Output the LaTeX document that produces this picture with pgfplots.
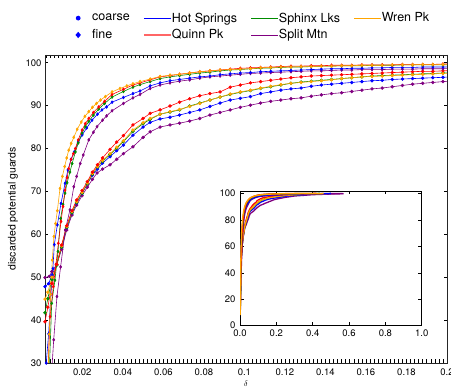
\documentclass[border=0pt]{standalone}
\usepackage{pgfplots}
\usepackage{pgfplotstable}
\pgfplotsset{compat=1.18}
\usepackage{fontspec}
\setmainfont{TeX Gyre Heros}
\definecolor{cblue}{RGB}{0,0,255}
\definecolor{cred}{RGB}{255,0,0}
\definecolor{cgreen}{RGB}{0,140,0}
\definecolor{corange}{RGB}{255,165,0}
\definecolor{cpurple}{RGB}{128,0,128}

% upper group (fine)
\pgfplotstableread{
x y
0.0012 8
0.0030 25
0.0037 36.7
0.0044 46
0.0052 54
0.0060 59.5
0.0068 62.5
0.0077 65.5
0.0090 70.7
0.0102 73.5
0.0113 75.8
0.0123 77.8
0.0133 79.6
0.0145 81.2
0.0158 82.6
0.0175 84.5
0.0195 86.2
0.0213 87.5
0.0232 88.6
0.0250 89.6
0.0270 90.5
0.0290 91.3
0.0314 92.1
0.0347 93.2
0.0386 94.0
0.0420 94.6
0.0450 95.1
0.0485 95.6
0.0535 96.2
0.0584 96.8
0.0633 97.1
0.068 97.3
0.073 97.6
0.078 97.9
0.083 98.1
0.088 98.3
0.093 98.4
0.098 98.5
0.103 98.6
0.108 98.8
0.113 98.9
0.118 99.0
0.123 99.0
0.128 99.1
0.133 99.1
0.138 99.2
0.143 99.2
0.148 99.3
0.153 99.3
0.158 99.4
0.163 99.4
0.168 99.4
0.173 99.5
0.178 99.5
0.183 99.5
0.188 99.6
0.193 99.6
0.198 99.6
0.2500 99.7
0.3000 99.8
0.4000 99.9
0.4600 100
}\tabOU
\pgfplotstableread{
x y
0.0012 10
0.0028 25
0.0041 40.8
0.0057 47.8
0.0070 53.0
0.0082 57.9
0.0095 63.0
0.0105 66.5
0.0115 70.3
0.0125 73.2
0.0133 75.3
0.0145 77.5
0.0156 78.8
0.0166 80.0
0.0180 82.0
0.0199 84.3
0.0215 85.8
0.0232 87.0
0.0255 88.4
0.0281 89.7
0.0310 91.0
0.0347 92.6
0.0403 93.8
0.0450 94.8
0.0485 95.3
0.0535 96.0
0.0584 96.7
0.0633 97.0
0.068 97.3
0.073 97.6
0.078 97.9
0.083 98.1
0.088 98.3
0.093 98.5
0.098 98.7
0.103 98.8
0.108 98.9
0.113 99.0
0.118 99.1
0.123 99.2
0.128 99.2
0.133 99.3
0.138 99.3
0.143 99.4
0.148 99.4
0.153 99.4
0.158 99.5
0.163 99.5
0.168 99.5
0.173 99.5
0.178 99.6
0.183 99.6
0.188 99.6
0.193 99.6
0.198 99.7
0.2500 99.8
0.3000 99.9
0.4200 100
}\tabRU
\pgfplotstableread{
x y
0.0012 10
0.0035 25
0.0049 43.9
0.0065 49.3
0.0080 56.0
0.0093 63.7
0.0105 67.0
0.0115 69.6
0.0125 72.0
0.0139 74.5
0.0150 76.5
0.0166 79.2
0.0180 81.3
0.0199 83.6
0.0215 85.1
0.0232 86.3
0.0255 87.8
0.0281 89.2
0.0310 90.5
0.0347 92.0
0.0403 93.3
0.0450 94.3
0.0485 94.9
0.0535 95.6
0.0584 96.3
0.0633 96.7
0.068 97.0
0.073 97.3
0.078 97.6
0.083 97.8
0.088 98.1
0.093 98.3
0.098 98.4
0.103 98.6
0.108 98.7
0.113 98.8
0.118 98.9
0.123 99.0
0.128 99.0
0.133 99.1
0.138 99.2
0.143 99.2
0.148 99.3
0.153 99.3
0.158 99.3
0.163 99.4
0.168 99.4
0.173 99.4
0.178 99.5
0.183 99.5
0.188 99.5
0.193 99.5
0.198 99.5
0.2500 99.7
0.3000 99.8
0.4400 100
}\tabGU
\pgfplotstableread{
x y
0.0010 12
0.0022 30
0.0034 36.8
0.0045 46.0
0.0055 52.0
0.0062 57.6
0.0077 62.2
0.0095 67.2
0.0115 71.9
0.0129 75.0
0.0145 77.5
0.0160 79.2
0.0180 81.5
0.0200 83.2
0.0222 84.8
0.0248 86.6
0.0275 88.0
0.0297 89.0
0.0320 89.7
0.0347 90.8
0.0403 91.9
0.0450 92.8
0.0485 93.4
0.0535 94.6
0.0584 95.3
0.0633 95.8
0.068 96.1
0.073 96.4
0.078 96.7
0.083 96.9
0.088 97.2
0.093 97.4
0.098 97.6
0.103 97.7
0.108 97.9
0.113 98.0
0.118 98.1
0.123 98.2
0.128 98.3
0.133 98.4
0.138 98.5
0.143 98.6
0.148 98.6
0.153 98.7
0.158 98.7
0.163 98.8
0.168 98.8
0.173 98.9
0.178 98.9
0.183 98.9
0.188 99.0
0.193 99.0
0.198 99.0
0.2500 99.4
0.3000 99.6
0.4000 99.8
0.5000 100
}\tabBU
\pgfplotstableread{
x y
0.0015 10
0.0045 25
0.0059 35.4
0.0075 45.5
0.0093 52.4
0.0116 61.0
0.0139 65.7
0.0158 71.1
0.0172 73.5
0.0190 76.5
0.0205 78.5
0.0232 82.0
0.0255 83.8
0.0273 85.1
0.0300 86.6
0.0320 87.6
0.0347 88.8
0.0403 90.5
0.0450 91.8
0.0485 92.6
0.0535 94.0
0.0584 94.8
0.0633 95.3
0.068 95.7
0.073 96.0
0.078 96.4
0.083 96.7
0.088 96.9
0.093 97.1
0.098 97.3
0.103 97.5
0.108 97.6
0.113 97.7
0.118 97.8
0.123 97.9
0.128 98.0
0.133 98.1
0.138 98.1
0.143 98.2
0.148 98.3
0.153 98.3
0.158 98.4
0.163 98.4
0.168 98.4
0.173 98.5
0.178 98.5
0.183 98.5
0.188 98.6
0.193 98.6
0.198 98.6
0.2500 99.0
0.3000 99.3
0.4000 99.6
0.5000 99.8
0.5650 99.9
}\tabPU

% lower group (coarse)
\pgfplotstableread{
x y
0.0016 39.6
0.0030 43.0
0.0050 48.5
0.0074 53.0
0.0098 57.5
0.0123 62.0
0.0149 65.5
0.0172 68.0
0.0199 70.2
0.0225 72.3
0.0250 74.5
0.0275 76.2
0.0300 77.8
0.0337 79.8
0.0370 81.5
0.0403 83.0
0.0450 85.5
0.0500 87.0
0.0535 88.2
0.0584 89.0
0.0633 89.9
0.068 90.8
0.073 91.6
0.078 92.3
0.083 92.8
0.088 93.2
0.093 94.3
0.098 94.8
0.103 95.3
0.108 95.6
0.113 95.9
0.118 96.2
0.123 96.5
0.128 96.7
0.133 96.9
0.138 97.0
0.143 97.1
0.148 97.2
0.153 97.3
0.158 97.4
0.163 97.5
0.168 97.6
0.173 97.7
0.178 97.8
0.183 97.9
0.188 98.0
0.193 98.0
0.198 98.1
0.2500 98.8
0.3000 99.2
0.3500 99.5
0.4500 99.8
}\tabRL
\pgfplotstableread{
x y
0.0016 44.9
0.0030 46.5
0.0050 50.0
0.0074 53.0
0.0098 57.3
0.0123 61.8
0.0149 65.3
0.0172 67.6
0.0199 69.8
0.0225 72.0
0.0250 74.2
0.0275 75.8
0.0300 77.2
0.0337 78.8
0.0370 80.3
0.0403 81.8
0.0450 84.3
0.0500 86.0
0.0535 87.0
0.0584 88.0
0.0633 88.6
0.068 89.1
0.073 89.8
0.078 90.5
0.083 91.3
0.088 92.0
0.093 92.7
0.098 93.2
0.103 93.6
0.108 94.1
0.113 94.5
0.118 94.9
0.123 95.2
0.128 95.4
0.133 95.6
0.138 95.8
0.143 96.0
0.148 96.3
0.153 96.5
0.158 96.7
0.163 96.8
0.168 96.9
0.173 97.0
0.178 97.1
0.183 97.2
0.188 97.3
0.193 97.4
0.198 97.5
0.2500 98.4
0.3000 99.0
0.4000 99.6
0.5000 99.9
}\tabOL
\pgfplotstableread{
x y
0.0016 41.7
0.0030 45.0
0.0050 49.5
0.0074 52.8
0.0098 57.0
0.0123 61.6
0.0149 65.0
0.0172 67.4
0.0199 69.6
0.0225 71.8
0.0250 74.0
0.0275 75.7
0.0300 77.0
0.0337 78.6
0.0370 80.1
0.0403 81.6
0.0450 84.0
0.0500 85.8
0.0535 86.8
0.0584 88.0
0.0633 88.5
0.068 89.0
0.073 89.9
0.078 90.6
0.083 91.3
0.088 92.0
0.093 92.6
0.098 93.1
0.103 93.5
0.108 94.0
0.113 94.4
0.118 94.8
0.123 95.2
0.128 95.5
0.133 95.7
0.138 95.9
0.143 96.1
0.148 96.3
0.153 96.5
0.158 96.7
0.163 96.9
0.168 97.0
0.173 97.1
0.178 97.2
0.183 97.3
0.188 97.4
0.193 97.5
0.198 97.6
0.2500 98.5
0.3000 99.0
0.4000 99.6
0.4500 99.8
}\tabGL
\pgfplotstableread{
x y
0.0016 47.8
0.0034 48.5
0.0050 50.5
0.0074 53.0
0.0098 57.0
0.0123 61.5
0.0149 65.0
0.0172 67.3
0.0199 69.5
0.0225 71.8
0.0250 73.8
0.0275 75.2
0.0300 76.6
0.0337 78.1
0.0370 79.5
0.0403 80.8
0.0450 83.1
0.0500 85.0
0.0535 86.1
0.0584 86.9
0.0633 87.3
0.068 87.8
0.073 88.4
0.078 89.0
0.083 89.8
0.088 90.6
0.093 91.3
0.098 91.7
0.103 92.1
0.108 92.8
0.113 93.2
0.118 93.6
0.123 93.9
0.128 94.1
0.133 94.5
0.138 94.8
0.143 95.0
0.148 95.2
0.153 95.4
0.158 95.6
0.163 95.8
0.168 95.9
0.173 96.1
0.178 96.2
0.183 96.3
0.188 96.4
0.193 96.5
0.198 96.6
0.2500 97.8
0.3000 98.6
0.4000 99.4
0.5000 99.8
}\tabBL
\pgfplotstableread{
x y
0.0016 49.9
0.0037 50.2
0.0050 51.3
0.0074 53.0
0.0098 56.5
0.0123 61.0
0.0149 64.5
0.0172 66.8
0.0199 69.0
0.0225 71.0
0.0250 72.8
0.0273 74.3
0.0300 75.2
0.0337 76.2
0.0370 77.5
0.0403 78.8
0.0450 80.4
0.0500 82.6
0.0535 83.9
0.0584 85.0
0.0633 85.5
0.068 85.9
0.073 86.4
0.078 87.0
0.083 87.8
0.088 88.4
0.093 89.0
0.098 89.6
0.103 90.1
0.108 90.6
0.113 91.0
0.118 91.3
0.123 91.6
0.128 91.8
0.133 92.2
0.138 92.5
0.143 92.8
0.148 93.0
0.153 93.3
0.158 93.6
0.163 93.9
0.168 94.1
0.173 94.4
0.178 94.7
0.183 95.0
0.188 95.2
0.193 95.4
0.198 95.6
0.2500 97.0
0.3000 98.0
0.4000 99.0
0.5000 99.5
0.5700 99.7
}\tabPL

\begin{document}
\begin{tikzpicture}
\begin{axis}[
  name=main,
  scale only axis,
  width=402bp, height=308bp,
  xmin=0.0016, xmax=0.2,
  ymin=30, ymax=101.8,
  xtick={0.02,0.04,0.06,0.08,0.1,0.12,0.14,0.16,0.18,0.2},
  xticklabels={0.02,0.04,0.06,0.08,0.1,0.12,0.14,0.16,0.18,0.2},
  minor xtick={0.002,0.004,...,0.2},
  ytick={30,40,...,100},
  major tick length=3.5bp, minor tick length=3.5bp,
  tick style={black, line width=0.5pt},
  axis line style={line width=0.6pt, black!85},
  tick label style={font=\fontsize{9.5bp}{11bp}\selectfont},
  /pgf/number format/assume math mode=true,
  xticklabel style={yshift=-2bp},
  xlabel={$\delta$},
  xlabel style={font=\footnotesize, at={(axis description cs:0.5,0)}, anchor=north, yshift=-14.5bp},
  ylabel={discarded potential guards},
  ylabel style={font=\fontsize{10.5bp}{12bp}\selectfont, at={(axis description cs:-0.0796,0.5)}, anchor=center},
  legend image code/.code={\draw[#1] (0bp,0bp) -- (27bp,0bp);},
  legend columns=4,
  legend cell align=left,
  legend style={draw=none, fill=none, inner sep=0pt,
    font=\fontsize{12.5bp}{15bp}\selectfont,
    at={(axis description cs:0.0485,1.1412)}, anchor=north west,
    nodes={inner xsep=0.5bp, inner ysep=1bp},
    row sep=4bp,
    /tikz/every even column/.append style={column sep=13bp}},
  every axis plot/.append style={line width=0.6pt, mark size=1.4bp},
]
\addlegendimage{legend image code/.code={\path[draw=none] (0bp,0bp) -- (27bp,0bp); \fill[draw=none, cblue] (13.5bp,0bp) circle (2.4bp);}}
\addlegendentry{coarse}
\addlegendimage{cblue, line width=0.8pt}
\addlegendentry{Hot Springs}
\addlegendimage{cgreen, line width=0.8pt}
\addlegendentry{Sphinx Lks}
\addlegendimage{corange, line width=0.8pt}
\addlegendentry{Wren Pk}
\addlegendimage{legend image code/.code={\path[draw=none] (0bp,0bp) -- (27bp,0bp); \fill[draw=none, cblue] (13.5bp,3.2bp) -- (16.2bp,0bp) -- (13.5bp,-3.2bp) -- (10.8bp,0bp) -- cycle;}}
\addlegendentry{fine}
\addlegendimage{cred!60, line width=1.2pt}
\addlegendentry{Quinn Pk}
\addlegendimage{cpurple, line width=0.8pt}
\addlegendentry{Split Mtn}

\addplot[cpurple, mark=*, forget plot] table {\tabPL};
\addplot[cblue, mark=*, forget plot] table {\tabBL};
\addplot[cgreen, mark=*, forget plot] table {\tabGL};
\addplot[corange, mark=*, forget plot] table {\tabOL};
\addplot[cred, mark=*, forget plot] table {\tabRL};
\addplot[cpurple, mark=diamond*, forget plot] table {\tabPU};
\addplot[cblue, mark=diamond*, forget plot] table {\tabBU};
\addplot[cgreen, mark=diamond*, forget plot] table {\tabGU};
\addplot[cred, mark=diamond*, forget plot] table {\tabRU};
\addplot[corange, mark=diamond*, forget plot] table {\tabOU};
\end{axis}

\begin{axis}[
  at={(195bp,37.3bp)}, anchor=south west,
  scale only axis,
  width=181.7bp, height=134.7bp,
  xmin=0, xmax=1, ymin=0, ymax=101.8,
  xtick={0,0.2,...,1.0},
  xticklabels={0.0,0.2,0.4,0.6,0.8,1.0},
  ytick={0,20,...,100},
  major tick length=3.5bp,
  tick style={black, line width=0.5pt},
  axis line style={line width=0.6pt, black},
  axis background/.style={fill=white},
  tick label style={font=\fontsize{9.5bp}{11bp}\selectfont},
  xticklabel style={yshift=-0.5bp},
  yticklabel style={xshift=-1bp},
  /pgf/number format/assume math mode=true,
  every axis plot/.append style={line width=1.3pt, no marks},
]
\addplot[cpurple] table {\tabPL};
\addplot[cblue] table {\tabBL};
\addplot[cgreen] table {\tabGL};
\addplot[cred] table {\tabRL};
\addplot[corange] table {\tabOL};
\addplot[cpurple] table {\tabPU};
\addplot[cblue] table {\tabBU};
\addplot[cgreen] table {\tabGU};
\addplot[cred] table {\tabRU};
\addplot[corange] table {\tabOU};
\end{axis}
\pgfresetboundingbox
\path[use as bounding box] (-45bp,-27bp) rectangle (406bp,363bp);
\end{tikzpicture}
\end{document}
